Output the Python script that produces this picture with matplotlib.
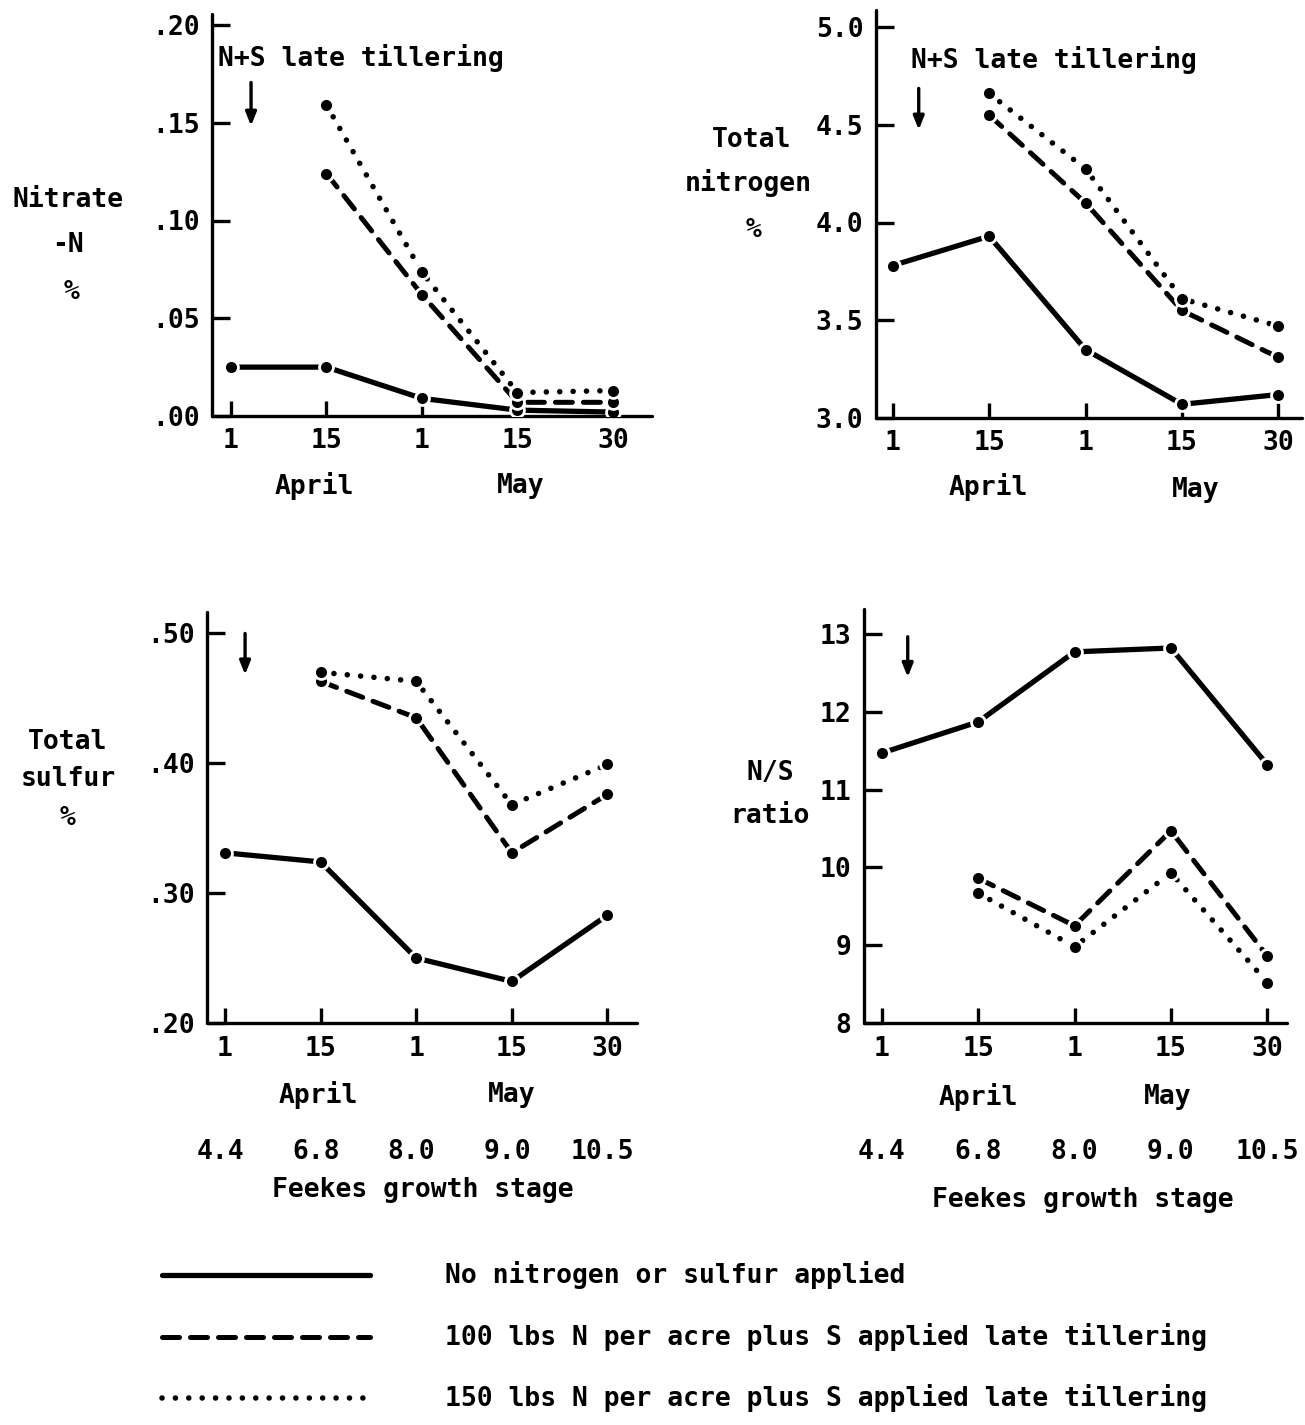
import numpy as np
import matplotlib
matplotlib.use("Agg")
import matplotlib.pyplot as plt
from matplotlib.lines import Line2D
from matplotlib.transforms import blended_transform_factory

# ---------------- data ----------------
dates = ["1", "15", "1", "15", "30"]
months = ["April", "May"]
feekes = ["4.4", "6.8", "8.0", "9.0", "10.5"]
series_labels = [
    "No nitrogen or sulfur applied",
    "100 lbs N per acre plus S applied late tillering",
    "150 lbs N per acre plus S applied late tillering",
]
nan = np.nan
nitrate_none = [0.025, 0.025, 0.009, 0.003, 0.002]
nitrate_n100 = [nan, 0.124, 0.062, 0.007, 0.007]
nitrate_n150 = [nan, 0.159, 0.0735, 0.012, 0.013]

totn_none = [3.78, 3.93, 3.35, 3.07, 3.12]
totn_n100 = [nan, 4.55, 4.10, 3.55, 3.31]
totn_n150 = [nan, 4.66, 4.275, 3.61, 3.47]

tots_none = [0.331, 0.324, 0.250, 0.232, 0.283]
tots_n100 = [nan, 0.463, 0.435, 0.331, 0.376]
tots_n150 = [nan, 0.470, 0.463, 0.368, 0.399]

ns_none = [11.47, 11.87, 12.77, 12.82, 11.32]
ns_n100 = [nan, 9.86, 9.25, 10.47, 8.86]
ns_n150 = [nan, 9.67, 8.98, 9.93, 8.52]

nitrate_ticks = [0.0, 0.05, 0.10, 0.15, 0.20]
nitrate_ticklabels = [".00", ".05", ".10", ".15", ".20"]
totn_ticks = [3.0, 3.5, 4.0, 4.5, 5.0]
totn_ticklabels = ["3.0", "3.5", "4.0", "4.5", "5.0"]
tots_ticks = [0.20, 0.30, 0.40, 0.50]
tots_ticklabels = [".20", ".30", ".40", ".50"]
ns_ticks = [8, 9, 10, 11, 12, 13]
ns_ticklabels = ["8", "9", "10", "11", "12", "13"]

# ---------------- style ----------------
W, H = 1305, 1425
FONT = "DejaVu Sans Mono"
FS = 19
FW = "bold"
plt.rcParams["font.family"] = FONT
plt.rcParams["font.weight"] = FW
fig = plt.figure(figsize=(W / 100, H / 100), dpi=100)

STY = {
    "none": dict(color="black", lw=3.8, linestyle="-", solid_capstyle="round"),
    "n100": dict(color="black", lw=3.6, linestyle=(0, (3.4, 2.2)), dash_capstyle="round"),
    "n150": dict(color="black", lw=4.0, linestyle=(0, (0.01, 2.4)), dash_capstyle="round"),
}
MK = dict(marker="o", markersize=10, markerfacecolor="black",
          markeredgecolor="white", markeredgewidth=2.0)


def fx(x):
    return x / W


def fy(y):
    return 1 - y / H


def make_axes(xl, xr, yt, yb, x0px, dxpx, y0px, y0val, pxper):
    """Spine extents in pixels; x0px: pixel of first tick, dxpx: pixel spacing;
    y0px/y0val: pixel & value of a reference level; pxper: px per unit."""
    ax = fig.add_axes([fx(xl), fy(yb), (xr - xl) / W, (yb - yt) / H])
    ax.set_xlim((xl - x0px) / dxpx, (xr - x0px) / dxpx)
    ax.set_ylim(y0val + (y0px - yb) / pxper, y0val + (y0px - yt) / pxper)
    for s in ["top", "right"]:
        ax.spines[s].set_visible(False)
    for s in ["left", "bottom"]:
        ax.spines[s].set_linewidth(2.4)
        ax.spines[s].set_capstyle("round")
    ax.tick_params(axis="y", direction="in", length=13, width=2.4, pad=9,
                   labelsize=FS)
    ax.tick_params(axis="x", direction="in", length=11, width=2.4, pad=9,
                   labelsize=FS)
    ax.set_xticks(range(len(dates)))
    ax.set_xticklabels(dates)
    ax.patch.set_alpha(0)
    return ax


def draw(ax, none, n100, n150):
    x = np.arange(len(dates))
    ax.plot(x, none, **STY["none"], **MK, zorder=3)
    ax.plot(x, n100, **STY["n100"], **MK, zorder=3)
    ax.plot(x, n150, **STY["n150"], **MK, zorder=3)


def arrow(ax, x, y0, y1):
    ax.annotate("", xy=(x, y1), xytext=(x, y0),
                arrowprops=dict(arrowstyle="-|>,head_length=0.8,head_width=0.32",
                                lw=2.4, color="black"))


def T(x, y, s, ha="center", **kw):
    fig.text(fx(x), fy(y), s, ha=ha, va="center", fontsize=FS, **kw)


# Panel 1: Nitrate-N
ax1 = make_axes(212, 652, 14, 416, 231, 95.5, 416, 0.0, 1955)
draw(ax1, nitrate_none, nitrate_n100, nitrate_n150)
ax1.set_yticks(nitrate_ticks)
ax1.set_yticklabels(nitrate_ticklabels)
arrow(ax1, 0.21, 0.172, 0.147)
T(218, 58, "N+S late tillering", ha="left")
T(68, 200, "Nitrate")
T(68, 245, "-N")
T(72, 292, "%")
T(314, 486, months[0])
T(521, 486, months[1])

# Panel 2: Total nitrogen
ax2 = make_axes(876, 1302, 10, 418, 892.7, 96.4, 418, 3.0, 195.5)
draw(ax2, totn_none, totn_n100, totn_n150)
ax2.set_yticks(totn_ticks)
ax2.set_yticklabels(totn_ticklabels)
arrow(ax2, 0.27, 4.70, 4.46)
T(911, 60, "N+S late tillering", ha="left")
T(752, 140, "Total")
T(748, 183, "nitrogen")
T(754, 230, "%")
T(988, 487, months[0])
T(1196, 490, months[1])

# Panel 3: Total sulfur
ax3 = make_axes(207, 637, 612, 1023, 225, 95.6, 1023.3, 0.20, 1300)
draw(ax3, tots_none, tots_n100, tots_n150)
ax3.set_yticks(tots_ticks)
ax3.set_yticklabels(tots_ticklabels)
arrow(ax3, 0.21, 0.502, 0.466)
T(68, 742, "Total")
T(68, 779, "sulfur")
T(68, 818, "%")
T(318, 1095, months[0])
T(512, 1095, months[1])
tr3 = blended_transform_factory(ax3.transData, fig.transFigure)
for i, s in enumerate(feekes):
    ax3.text(i - 0.05, fy(1152), s, transform=tr3, ha="center", va="center", fontsize=FS)
T(423, 1190, "Feekes growth stage")

# Panel 4: N/S ratio
ax4 = make_axes(864, 1287, 609, 1023, 881.7, 96.4, 1023.3, 8.0, 77.86)
draw(ax4, ns_none, ns_n100, ns_n150)
ax4.set_yticks(ns_ticks)
ax4.set_yticklabels(ns_ticklabels)
arrow(ax4, 0.27, 13.0, 12.41)
T(770, 773, "N/S")
T(770, 816, "ratio")
T(978, 1097, months[0])
T(1168, 1097, months[1])
tr4 = blended_transform_factory(ax4.transData, fig.transFigure)
for i, s in enumerate(feekes):
    ax4.text(i, fy(1152), s, transform=tr4, ha="center", va="center", fontsize=FS)
T(1083, 1200, "Feekes growth stage")

# Legend
for (key, yy, lab) in zip(["none", "n100", "n150"], [1275, 1337, 1398], series_labels):
    fig.add_artist(Line2D([fx(162), fx(370)], [fy(yy), fy(yy)],
                          transform=fig.transFigure, **STY[key]))
    T(445, yy, lab, ha="left")

fig.savefig("out.png", dpi=100, facecolor="white")
